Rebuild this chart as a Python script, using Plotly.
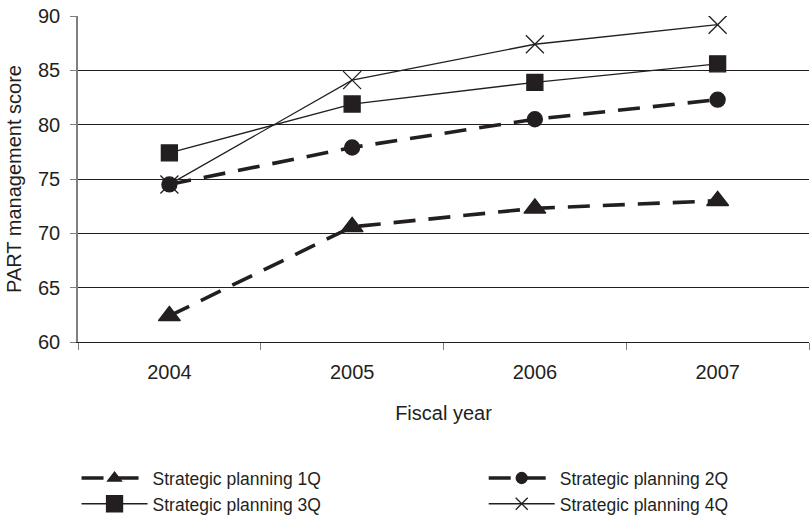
import plotly.graph_objects as go

years = ["2004", "2005", "2006", "2007"]
q1 = [62.4, 70.6, 72.3, 73.0]
q2 = [74.5, 77.9, 80.5, 82.3]
q3 = [77.4, 81.9, 83.9, 85.6]
q4 = [74.5, 84.1, 87.4, 89.2]
names = ["Strategic planning 1Q", "Strategic planning 2Q",
         "Strategic planning 3Q", "Strategic planning 4Q"]

ink = "#231f20"
axis_grey = "#808080"
font = "Liberation Sans, Arial, sans-serif"
dashed = dict(color=ink, width=3.6, dash="22px,13px")
thin = dict(color=ink, width=1.3)

# (values, line style, symbol, plot size, legend size, legend id)
series = [
    (q1, dashed, "triangle-up", 19, 12, "legend"),
    (q2, dashed, "circle", 15, 11, "legend2"),
    (q3, thin, "square", 16, 16, "legend"),
    (q4, thin, "x-thin", 18, 12, "legend2"),
]

fig = go.Figure()
for name, (vals, line, sym, size, lsize, leg) in zip(names, series):
    mline = dict(color=ink, width=1.3)
    fig.add_trace(go.Scatter(
        x=years, y=vals, name=name, mode="lines+markers", line=line,
        marker=dict(symbol=sym, size=size, color=ink, line=mline),
        showlegend=False))
    # legend entry with smaller key symbol
    fig.add_trace(go.Scatter(
        x=[None], y=[None], name=name, mode="lines+markers", line=line,
        marker=dict(symbol=sym, size=lsize, color=ink, line=mline),
        legend=leg))

legend_common = dict(
    orientation="v", xref="paper", yref="container",
    xanchor="left", yanchor="top", y=0.110,
    itemwidth=66, tracegroupgap=0, traceorder="normal",
    font=dict(size=17.5, family=font, color=ink),
    bgcolor="rgba(0,0,0,0)",
)

fig.update_layout(
    width=811, height=517,
    margin=dict(l=78, r=2, t=16, b=175),
    paper_bgcolor="white", plot_bgcolor="white",
    font=dict(family=font, size=20, color=ink),
    showlegend=True,
    legend=dict(x=-0.002, **legend_common),
    legend2=dict(x=0.555, **legend_common),
)
fig.update_xaxes(
    type="category", range=[-0.5, 3.5], automargin=False,
    showline=True, linecolor=ink, linewidth=1.3,
    ticks="outside", tickson="boundaries", ticklen=7, tickcolor=axis_grey,
    tickwidth=1.3, ticklabelstandoff=12,
    showgrid=False,
    title=dict(text="Fiscal year", standoff=23, font=dict(size=20)),
)
fig.update_yaxes(
    range=[60, 90], dtick=5, automargin=False,
    showline=True, linecolor=axis_grey, linewidth=1.5,
    ticks="outside", ticklen=6, tickcolor=axis_grey, tickwidth=1.3,
    ticklabelstandoff=6,
    showgrid=True, gridcolor=ink, gridwidth=1.3,
    zeroline=False,
    title=dict(text="PART management score", standoff=11, font=dict(size=20)),
)

fig.write_html("out.html")
